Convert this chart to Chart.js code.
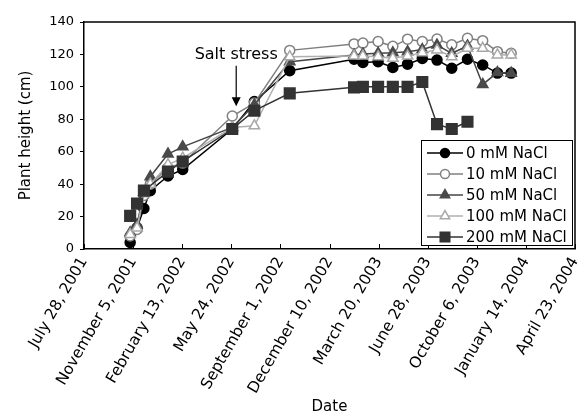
<!DOCTYPE html>
<html><head><meta charset="utf-8">
<script src="https://cdn.jsdelivr.net/npm/chart.js@4.4.0/dist/chart.umd.min.js"></script>
<style>html,body{margin:0;padding:0;background:#fff}#wrap{width:584px;height:418px;position:relative}</style>
</head><body><div id="wrap"><canvas id="c"></canvas></div>
<script>
// X tick labels (every 100 days from July 28, 2001)
const tickLabels = ["July 28, 2001","November 5, 2001","February 13, 2002","May 24, 2002","September 1, 2002","December 10, 2002","March 20, 2003","June 28, 2003","October 6, 2003","January 14, 2004","April 23, 2004"];
// measurement dates, as days since July 28, 2001
const measureDays = [94,108,122,135,171,201,302,347,419,550,568,599,629,659,689,719,749,781,812,842,870];
const seriesNames = ["0 mM NaCl","10 mM NaCl","50 mM NaCl","100 mM NaCl","200 mM NaCl"];
// plant height (cm)
const h0   = [4,13,25,36,45,49,74,91,110,117,115,115.5,112,114,117.5,116.5,111.5,117,113.5,108.5,108.5];
const h10  = [8,12,33,40,50,53,82,90,122.5,126.5,127,128,125,129.4,128,129.5,126,130,128.5,121.7,120.7];
const h50  = [10,15,35,44.6,58.6,63,75,89,115.5,119.7,120.3,120.7,121,121.7,123,125.8,120.7,125.2,101.5,108.8,108.4];
const h100 = [9,13,34,40,52,56,75,76,118.6,119,119,118.6,117.6,119,121,122.8,118.6,123.8,123.8,119.7,119.7];
const h200 = [20.4,28,36,null,47.7,54,74,85.3,96,99.7,100,100,100,100,103,77,74,78.5,null,null,null];
const saltStress = {label:"Salt stress", day:310, textY:120, arrowFrom:113, arrowTo:88};

const styles = [
  {line:"#000000", bg:"#000000", bd:"#000000", ps:"circle", r:5},
  {line:"#808080", bg:"#ffffff", bd:"#808080", ps:"circle", r:5},
  {line:"#444444", bg:"#4a4a4a", bd:"#4a4a4a", ps:"triangle", r:6},
  {line:"#b0b0b0", bg:"#ffffff", bd:"#a8a8a8", ps:"triangle", r:6},
  {line:"#333333", bg:"#333333", bd:"#333333", ps:"rect", r:7.5}
];
const allSeries = [h0,h10,h50,h100,h200];
const datasets = allSeries.map((vals,i)=>({
  label: seriesNames[i],
  data: measureDays.map((d,j)=>({x:d, y:vals[j]})).filter(p=>p.y!==null),
  borderColor: styles[i].line, backgroundColor: styles[i].bg,
  pointBorderColor: styles[i].bd, pointBackgroundColor: styles[i].bg,
  pointStyle: styles[i].ps, pointRadius: styles[i].r, pointBorderWidth: 1.5,
  borderWidth: 1.5, tension: 0, clip: false, order: 5 - i
}));

const FONT = "'DejaVu Sans', sans-serif";

const extras = {
  id: 'extras',
  afterDraw(chart) {
    const ctx = chart.ctx, a = chart.chartArea, xs = chart.scales.x, ys = chart.scales.y;
    ctx.save();
    ctx.strokeStyle = '#000'; ctx.lineWidth = 1.5;
    ctx.beginPath(); ctx.moveTo(a.left, a.top); ctx.lineTo(a.right, a.top); ctx.lineTo(a.right, a.bottom); ctx.stroke();
    ctx.lineWidth = 1;
    xs.ticks.forEach(t => { const px = Math.round(xs.getPixelForValue(t.value)) + 0.5; ctx.beginPath(); ctx.moveTo(px, a.bottom); ctx.lineTo(px, a.bottom - 5); ctx.stroke(); });
    const ax = xs.getPixelForValue(saltStress.day);
    ctx.fillStyle = '#000'; ctx.font = "16px " + FONT; ctx.textAlign = 'center'; ctx.textBaseline = 'middle';
    ctx.fillText(saltStress.label, ax, ys.getPixelForValue(saltStress.textY));
    const y1 = ys.getPixelForValue(saltStress.arrowFrom), y2 = ys.getPixelForValue(saltStress.arrowTo);
    ctx.lineWidth = 1.2; ctx.beginPath(); ctx.moveTo(ax, y1); ctx.lineTo(ax, y2 - 6); ctx.stroke();
    ctx.beginPath(); ctx.moveTo(ax - 4.5, y2 - 9); ctx.lineTo(ax + 4.5, y2 - 9); ctx.lineTo(ax, y2); ctx.closePath(); ctx.fill();
    // legend
    const lx = a.right - 154, ly = a.bottom - 109, lw = 151, lh = 105;
    ctx.fillStyle = '#fff'; ctx.fillRect(lx, ly, lw, lh);
    ctx.strokeStyle = '#000'; ctx.lineWidth = 1; ctx.strokeRect(lx + 0.5, ly + 0.5, lw, lh);
    ctx.font = "15px " + FONT; ctx.textAlign = 'left'; ctx.textBaseline = 'middle';
    chart.data.datasets.forEach((ds, i) => {
      const yy = ly + 13 + i * 21;
      ctx.strokeStyle = ds.borderColor; ctx.lineWidth = 1.5;
      ctx.beginPath(); ctx.moveTo(lx + 6, yy); ctx.lineTo(lx + 42, yy); ctx.stroke();
      ctx.strokeStyle = ds.pointBorderColor; ctx.fillStyle = ds.pointBackgroundColor; ctx.lineWidth = 1.5;
      Chart.helpers.drawPoint(ctx, {pointStyle: ds.pointStyle, rotation: 0, radius: ds.pointRadius * 0.9, borderWidth: 1.5}, lx + 24, yy);
      ctx.fillStyle = '#000';
      ctx.fillText(ds.label, lx + 45, yy + 1);
    });
    ctx.restore();
  }
};

new Chart(document.getElementById('c'), {
  type: 'line',
  data: { datasets },
  options: {
    responsive: true, maintainAspectRatio: false, animation: false,
    layout: { padding: { left: 17, right: 4, top: 22, bottom: 0 } },
    plugins: { legend: { display: false }, tooltip: { enabled: false } },
    scales: {
      x: {
        type: 'linear', min: 0, max: 1000,
        afterFit: s => { s.height = 418 - 249; s.paddingRight = 0; s.paddingLeft = 0; },
        ticks: { stepSize: 100, autoSkip: false, minRotation: 60, maxRotation: 60, color: '#000', padding: 5,
          font: { family: FONT, size: 15.5 },
          callback: v => tickLabels[Math.round(v / 100)] },
        grid: { drawOnChartArea: false, drawTicks: false },
        border: { color: '#000', width: 1.5 },
        title: { display: true, text: 'Date', color: '#000', font: { family: FONT, size: 15 }, padding: { top: 2, bottom: 2 } }
      },
      y: {
        min: 0, max: 140,
        afterFit: s => { s.width = 67; },
        ticks: { stepSize: 20, color: '#000', padding: 6, font: { family: FONT, size: 13 } },
        grid: { drawOnChartArea: false, tickLength: 4, color: '#000' },
        border: { color: '#000', width: 1.5 },
        title: { display: true, text: 'Plant height (cm)', color: '#000', font: { family: FONT, size: 15 }, padding: { top: 0, bottom: 4 } }
      }
    }
  },
  plugins: [extras]
});
</script></body></html>
